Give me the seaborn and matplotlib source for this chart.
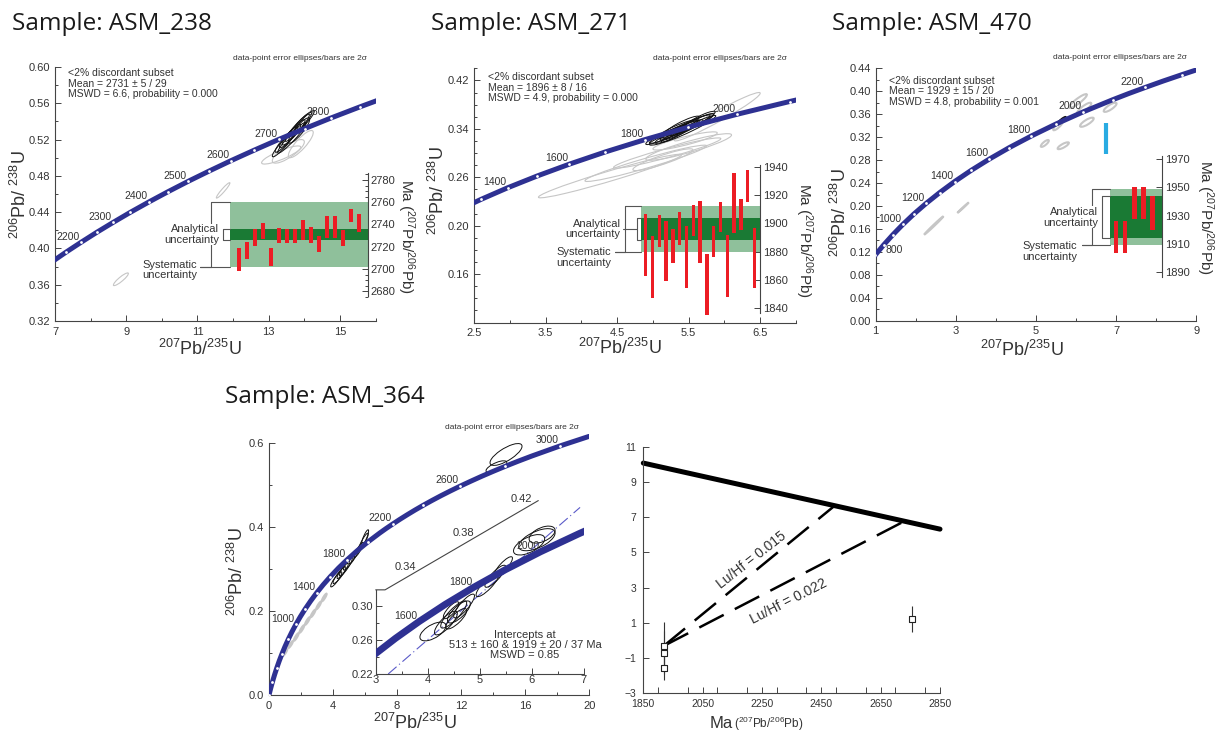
import numpy as np
import pandas as pd
import matplotlib
matplotlib.use("Agg")
import matplotlib.pyplot as plt
import matplotlib.transforms as transforms
from matplotlib.patches import Ellipse
from matplotlib.ticker import MultipleLocator, FixedLocator, FixedFormatter, FormatStrFormatter
import seaborn as sns

# ---------------- concordia reference points: age (Ma), 207Pb/235U, 206Pb/238U ----------------
conc_age = [0, 100, 200, 300, 400, 500, 600, 700, 800, 900, 1000, 1100, 1200, 1300,
            1400, 1500, 1600, 1700, 1800, 1900, 2000, 2100, 2150, 2200, 2250, 2300,
            2350, 2400, 2450, 2500, 2550, 2600, 2650, 2700, 2750, 2800, 2850, 2900,
            3000, 3100]
conc_x = [0.0, 0.1035, 0.2177, 0.3437, 0.4828, 0.6363, 0.8056, 0.9925, 1.1987, 1.4263,
          1.6774, 1.9545, 2.2603, 2.5977, 2.9701, 3.3810, 3.8344, 4.3348, 4.8869, 5.4962,
          6.1685, 6.9105, 7.3097, 7.7292, 8.1698, 8.6326, 9.1188, 9.6296, 10.1661, 10.7297,
          11.3218, 11.9437, 12.5970, 13.2833, 14.0043, 14.7616, 15.5572, 16.3929,
          18.1931, 20.1795]
conc_y = [0.0, 0.0156, 0.0315, 0.0476, 0.0640, 0.0807, 0.0975, 0.1147, 0.1321, 0.1498,
          0.1678, 0.1861, 0.2046, 0.2234, 0.2426, 0.2620, 0.2817, 0.3018, 0.3221, 0.3428,
          0.3638, 0.3851, 0.3959, 0.4067, 0.4177, 0.4287, 0.4399, 0.4511, 0.4624, 0.4738,
          0.4852, 0.4968, 0.5084, 0.5202, 0.5320, 0.5440, 0.5560, 0.5681,
          0.5926, 0.6175]

# ---------------- ASM_238 ----------------
p1_labels = [2200, 2300, 2400, 2500, 2600, 2700, 2800]
p1_black = [(13.40, 0.514, 0.30, 0.013, 0.93), (13.50, 0.520, 0.32, 0.014, 0.93),
            (13.60, 0.524, 0.30, 0.013, 0.92), (13.70, 0.528, 0.32, 0.014, 0.93),
            (13.80, 0.533, 0.34, 0.015, 0.94), (13.90, 0.537, 0.30, 0.013, 0.92),
            (14.00, 0.540, 0.28, 0.012, 0.93), (13.65, 0.522, 0.40, 0.017, 0.95),
            (13.85, 0.530, 0.30, 0.014, 0.88)]
p1_gray = [(13.35, 0.503, 0.55, 0.010, 0.85), (13.55, 0.507, 0.45, 0.013, 0.80),
           (13.90, 0.515, 0.35, 0.015, 0.85), (11.72, 0.464, 0.19, 0.0085, 0.95),
           (8.85, 0.366, 0.21, 0.007, 0.90)]
p1_mean, p1_ana, p1_sys = 2731, 5, 29
p1_top = [2719, 2724, 2736, 2741, 2719, 2737, 2736, 2736, 2744, 2738, 2730, 2748, 2748, 2735, 2754, 2749]
p1_bot = [2698, 2709, 2721, 2727, 2703, 2723, 2723, 2723, 2726, 2723, 2715, 2728, 2728, 2721, 2742, 2733]
p1_stats = "<2% discordant subset\nMean = 2731 ± 5 / 29\nMSWD = 6.6, probability = 0.000"

# ---------------- ASM_271 ----------------
p2_labels = [1400, 1600, 1800, 2000]
p2_black = [(5.20, 0.330, 0.30, 0.016, 0.93), (5.30, 0.335, 0.35, 0.019, 0.95),
            (5.40, 0.338, 0.30, 0.017, 0.93), (5.45, 0.343, 0.35, 0.020, 0.95),
            (5.35, 0.340, 0.28, 0.015, 0.90), (5.55, 0.347, 0.30, 0.018, 0.94),
            (5.60, 0.350, 0.25, 0.015, 0.92), (5.25, 0.328, 0.22, 0.012, 0.90),
            (5.50, 0.340, 0.38, 0.022, 0.96), (5.65, 0.355, 0.22, 0.014, 0.90),
            (5.40, 0.345, 0.25, 0.016, 0.90), (5.15, 0.323, 0.20, 0.010, 0.85)]
p2_gray = [(4.40, 0.262, 1.00, 0.036, 0.97), (4.90, 0.283, 0.85, 0.030, 0.96),
           (5.20, 0.300, 0.75, 0.025, 0.95), (5.14, 0.289, 0.42, 0.018, 0.90),
           (5.50, 0.310, 0.60, 0.022, 0.90), (5.90, 0.360, 0.60, 0.040, 0.97),
           (5.45, 0.320, 0.45, 0.015, 0.88)]
p2_mean, p2_ana, p2_sys = 1896, 8, 16
p2_top = [1907, 1891, 1906, 1902, 1896, 1908, 1898, 1913, 1916, 1878, 1898, 1915, 1892, 1936, 1917, 1938, 1897]
p2_bot = [1863, 1847, 1883, 1859, 1872, 1885, 1854, 1891, 1872, 1835, 1876, 1894, 1848, 1893, 1895, 1915, 1854]
p2_stats = "<2% discordant subset\nMean = 1896 ± 8 / 16\nMSWD = 4.9, probability = 0.000"
p2_yticks = [0.10, 0.18, 0.26, 0.34, 0.42]
p2_ylabels = ["0.16", "0.20", "0.26", "0.34", "0.42"]

# ---------------- ASM_470 ----------------
p3_labels = [1000, 1200, 1400, 1600, 1800, 2000, 2200]
p3_black = [(5.62, 0.348, 0.13, 0.008, 0.90)]
p3_gray = [(6.05, 0.383, 0.22, 0.012, 0.90), (6.20, 0.370, 0.18, 0.010, 0.85),
           (6.85, 0.372, 0.16, 0.008, 0.80), (6.27, 0.346, 0.17, 0.008, 0.80),
           (5.22, 0.309, 0.10, 0.006, 0.80), (5.68, 0.305, 0.14, 0.006, 0.80),
           (5.55, 0.340, 0.12, 0.008, 0.85), (2.45, 0.166, 0.24, 0.016, 0.995),
           (3.18, 0.197, 0.14, 0.009, 0.995)]
p3_cyan_x = [6.75, 6.75]
p3_cyan_y = [0.291, 0.345]
p3_mean, p3_ana, p3_sys = 1929, 15, 20
p3_top = [1926, 1926, 1950, 1950, 1944]
p3_bot = [1904, 1904, 1928, 1928, 1920]
p3_stats = "<2% discordant subset\nMean = 1929 ± 15 / 20\nMSWD = 4.8, probability = 0.001"

# ---------------- ASM_364 ----------------
p4_labels = [1000, 1400, 1800, 2200, 2600, 3000]
p4_black = [(4.2, 0.275, 0.35, 0.018, 0.9), (4.4, 0.285, 0.40, 0.020, 0.9),
            (4.6, 0.295, 0.35, 0.018, 0.9), (4.8, 0.305, 0.40, 0.022, 0.9),
            (5.0, 0.315, 0.35, 0.018, 0.9), (5.3, 0.330, 0.30, 0.018, 0.9),
            (5.6, 0.345, 0.30, 0.018, 0.9), (5.9, 0.365, 0.30, 0.020, 0.9),
            (6.0, 0.375, 0.22, 0.018, 0.85), (14.8, 0.572, 1.0, 0.026, 0.75),
            (14.2, 0.543, 0.65, 0.014, 0.70)]
p4_gray = [(1.00, 0.101, 0.14, 0.008, 0.9), (1.35, 0.120, 0.14, 0.008, 0.9),
           (1.70, 0.138, 0.15, 0.009, 0.9), (2.05, 0.157, 0.15, 0.009, 0.9),
           (2.40, 0.176, 0.15, 0.009, 0.9), (2.75, 0.194, 0.15, 0.009, 0.9),
           (3.10, 0.213, 0.15, 0.009, 0.9), (3.45, 0.232, 0.15, 0.009, 0.9)]
p4_in_labels = [1600, 1800, 2000]
p4_in_black = [(4.10, 0.270, 0.25, 0.011, 0.6), (4.35, 0.280, 0.22, 0.014, 0.8),
               (4.50, 0.290, 0.25, 0.016, 0.85), (4.60, 0.293, 0.22, 0.013, 0.75),
               (4.55, 0.285, 0.20, 0.012, 0.8), (4.70, 0.300, 0.20, 0.014, 0.85),
               (4.45, 0.295, 0.15, 0.010, 0.8), (5.15, 0.325, 0.22, 0.014, 0.85),
               (5.30, 0.335, 0.20, 0.013, 0.85), (5.45, 0.346, 0.18, 0.012, 0.85),
               (5.95, 0.372, 0.30, 0.012, 0.6), (6.10, 0.378, 0.35, 0.013, 0.6),
               (6.20, 0.384, 0.25, 0.010, 0.5)]
disc_x = [3.24, 6.93]
disc_y = [0.22, 0.416]
diag_x = [3.0, 3.18, 6.127]
diag_y = [0.319, 0.319, 0.424]
diag_ticks = [0.34, 0.38, 0.42]
p4_stats = "Intercepts at\n513 ± 160 & 1919 ± 20 / 37 Ma\nMSWD = 0.85"

# ---------------- eHf vs edad ----------------
dm_age = [1850, 2850]
dm_eps = [10.07, 6.32]
lu015_age = [1919, 2495]
lu015_eps = [-0.31, 7.65]
lu022_age = [1919, 2730]
lu022_eps = [-0.31, 6.77]
hf_age = [1919, 1919, 1919, 2757]
hf_eps = [-0.31, -0.69, -1.54, 1.22]
hf_err = [1.38, 1.2, 0.7, 0.72]

# ---------------- estilo ----------------
sns.set_theme(style="ticks")
plt.rcParams['font.family'] = ['Liberation Sans', 'DejaVu Sans']
plt.rcParams['mathtext.fontset'] = 'custom'
plt.rcParams['mathtext.rm'] = 'Liberation Sans'
plt.rcParams['mathtext.default'] = 'regular'

BLUE = '#2e3192'
LGREEN = '#8fc09b'
DGREEN = '#1a7a34'
RED = '#ec1c24'
AXC = '#444444'
TXT = '#333333'
GRAY = '#c6c6c6'

W, H = 1215, 737
fig = plt.figure(figsize=(12.15, 7.37), dpi=100, facecolor='white')
conc = pd.DataFrame({'age': conc_age, 'x': conc_x, 'y': conc_y})


def px_rect(l, t, r, b):
    return [l / W, 1 - b / H, (r - l) / W, (b - t) / H]


def style(ax, size=8):
    ax.set_facecolor('none')
    for s in ['top', 'right']:
        ax.spines[s].set_visible(False)
    for s in ['left', 'bottom']:
        ax.spines[s].set_color(AXC)
        ax.spines[s].set_linewidth(0.8)
    ax.tick_params(which='both', direction='in', color=AXC, labelcolor=TXT,
                   labelsize=size, width=0.7)
    ax.tick_params(which='major', length=4)
    ax.tick_params(which='minor', length=2.5)
    ax.tick_params(axis='x', pad=4)


def ellipses(ax, items, color, lw=0.8, fill='none'):
    for x, y, sx, sy, rho in items:
        e = Ellipse((0, 0), width=2 * np.sqrt(1 + rho), height=2 * np.sqrt(1 - rho),
                    facecolor=fill, edgecolor=color, lw=lw, zorder=2)
        tr = transforms.Affine2D().rotate_deg(45).scale(sx, sy).translate(x, y)
        e.set_transform(tr + ax.transData)
        ax.add_patch(e)


def curve(ax, lo, hi, step, lw=3.6, dots=True):
    d = conc[(conc.age >= lo) & (conc.age <= hi)]
    sns.lineplot(data=d, x='x', y='y', sort=False, estimator=None, color=BLUE,
                 lw=lw, ax=ax, zorder=3)
    if dots:
        sns.scatterplot(data=d[d.age % step == 0], x='x', y='y', color='white',
                        s=4, linewidth=0, ax=ax, zorder=4)
    ax.set(xlabel='', ylabel='')


def age_labels(ax, ages, size=7.5):
    for a in ages:
        r = conc[conc.age == a].iloc[0]
        ax.annotate(str(a), (r.x, r.y), xytext=(-1, 0.5), textcoords='offset points',
                    ha='right', va='bottom', fontsize=size, color=TXT, zorder=5)


def axis_texts(ax, xl, yl, note_xy, stats=None, stats_xy=None):
    ax.text(xl[0], xl[1], r'$^{207}$Pb/$^{235}$U', transform=ax.transAxes,
            ha='center', va='center', fontsize=13, color=TXT)
    ax.text(yl[0], yl[1], r'$^{206}$Pb/ $^{238}$U', transform=ax.transAxes,
            ha='center', va='center', fontsize=13, color=TXT, rotation=90)
    ax.text(note_xy[0], note_xy[1], 'data-point error ellipses/bars are 2σ',
            transform=ax.transAxes, ha='right', va='center', fontsize=6, color=TXT)
    if stats:
        ax.text(stats_xy[0], stats_xy[1], stats, transform=ax.transAxes, ha='left',
                va='top', fontsize=7.5, color=TXT, linespacing=1.05)


def ma_inset(rect, xlim, ylim, bounds, ticks, minor, mean, ana, sys_, top, bot,
             sys_x, ana_x, tail_x, ana_txt_x, sys_txt_x, sys_txt_dy, leader_x=None):
    ax = fig.add_axes(px_rect(*rect))
    ax.set_facecolor('none')
    ax.set_xlim(xlim)
    ax.set_ylim(ylim)
    ax.axhspan(mean - sys_, mean + sys_, color=LGREEN, lw=0, zorder=1)
    ax.axhspan(mean - ana, mean + ana, color=DGREEN, lw=0, zorder=1)
    idx = np.arange(1, len(top) + 1)
    ax.bar(idx, np.array(top) - np.array(bot), bottom=bot, width=0.5, color=RED,
           lw=0, zorder=3, clip_on=False)
    for s in ['top', 'left', 'bottom']:
        ax.spines[s].set_visible(False)
    ax.spines['right'].set_color(AXC)
    ax.spines['right'].set_linewidth(0.8)
    ax.spines['right'].set_bounds(*bounds)
    ax.yaxis.tick_right()
    ax.set_xticks([])
    ax.yaxis.set_major_locator(FixedLocator(ticks))
    if minor:
        ax.yaxis.set_minor_locator(MultipleLocator(minor))
    ax.tick_params(which='both', direction='in', color=AXC, labelcolor=TXT,
                   labelsize=8, width=0.7, pad=2)
    ax.tick_params(which='major', length=4)
    ax.tick_params(which='minor', length=2)
    x0 = xlim[0]
    kw = dict(color='#555555', lw=0.8, clip_on=False, zorder=1)
    ax.plot([x0, sys_x, sys_x, tail_x], [mean + sys_, mean + sys_, mean - sys_, mean - sys_], **kw)
    ax.plot([tail_x, x0], [mean - sys_, mean - sys_], **kw)
    ax.plot([x0, ana_x, ana_x, x0], [mean + ana, mean + ana, mean - ana, mean - ana], **kw)
    if leader_x is not None:
        ax.plot([leader_x, ana_x], [mean, mean], **kw)
    ax.text(ana_txt_x, mean, 'Analytical\nuncertainty', ha='right', va='center',
            fontsize=8, color=TXT, linespacing=1.1, zorder=4,
            bbox=dict(facecolor='white', edgecolor='none', pad=0.3))
    ax.text(sys_txt_x, mean - sys_ - sys_txt_dy, 'Systematic\nuncertainty', ha='right',
            va='center', fontsize=8, color=TXT, linespacing=1.1, multialignment='left')
    return ax


def title(x, y, s):
    fig.text(x / W, 1 - y / H, s, fontsize=17.5, family=['Open Sans', 'DejaVu Sans'],
             ha='left', va='baseline', color='#1a1a1a')


def ma_label(x, y):
    fig.text(x / W, 1 - y / H, r'Ma $(^{207}$Pb/$^{206}$Pb$)$', rotation=270,
             ha='center', va='center', fontsize=11, color=TXT)


# ================= ASM_238 =================
title(12, 30, 'Sample: ASM_238')
ax1 = fig.add_axes(px_rect(55, 67, 375.6, 321))
ax1.set_xlim(7, 16)
ax1.set_ylim(0.32, 0.60)
style(ax1)
curve(ax1, 2000, 2900, 50)
ellipses(ax1, p1_gray, GRAY, lw=0.8)
ellipses(ax1, p1_black, '#111111', lw=0.7)
age_labels(ax1, p1_labels)
ax1.xaxis.set_major_locator(FixedLocator([7, 9, 11, 13, 15]))
ax1.xaxis.set_minor_locator(MultipleLocator(1))
ax1.yaxis.set_major_locator(MultipleLocator(0.04))
ax1.yaxis.set_minor_locator(MultipleLocator(0.02))
ax1.yaxis.set_major_formatter(FormatStrFormatter('%.2f'))
axis_texts(ax1, (0.452, -0.11), (-0.11, 0.5), (0.973, 1.035), p1_stats, (0.041, 0.995))
ma_inset((230, 173.3, 368, 296.8), (-0.125, 17.125), (2675, 2786), (2676, 2786),
         [2680, 2700, 2720, 2740, 2760, 2780], 5, p1_mean, p1_ana, p1_sys, p1_top, p1_bot,
         sys_x=-2.5, ana_x=-1.0, tail_x=-3.875, ana_txt_x=-1.5, sys_txt_x=-4.25, sys_txt_dy=3)
ma_label(406, 236)

# ================= ASM_271 =================
title(431, 30, 'Sample: ASM_271')
ax2 = fig.add_axes(px_rect(474, 68.3, 796, 322.5))
ax2.set_xlim(2.5, 7.0)
ax2.set_ylim(0.02, 0.44)
style(ax2)
curve(ax2, 1200, 2200, 100)
ellipses(ax2, p2_gray, GRAY, lw=0.8)
ellipses(ax2, p2_black, '#111111', lw=0.7)
age_labels(ax2, p2_labels)
ax2.xaxis.set_major_locator(FixedLocator([2.5, 3.5, 4.5, 5.5, 6.5]))
ax2.xaxis.set_minor_locator(MultipleLocator(0.5))
ax2.yaxis.set_major_locator(FixedLocator(p2_yticks))
ax2.yaxis.set_major_formatter(FixedFormatter(p2_ylabels))
ax2.yaxis.set_minor_locator(MultipleLocator(0.02))
ax2.xaxis.set_major_formatter(FormatStrFormatter('%.1f'))
axis_texts(ax2, (0.453, -0.10), (-0.111, 0.52), (0.971, 1.04), p2_stats, (0.044, 0.985))
ma_inset((640.7, 164.9, 760, 317.9), (0.27, 17.81), (1833, 1941.5), (1836.5, 1941.5),
         [1840, 1860, 1880, 1900, 1920, 1940], None, p2_mean, p2_ana, p2_sys, p2_top, p2_bot,
         sys_x=-2.04, ana_x=-0.23, tail_x=-3.51, ana_txt_x=-2.67, sys_txt_x=-3.99,
         sys_txt_dy=4, leader_x=-2.38)
ma_label(804, 240)

# ================= ASM_470 =================
title(832, 30, 'Sample: ASM_470')
ax3 = fig.add_axes(px_rect(875.7, 68.3, 1196.3, 320.7))
ax3.set_xlim(1, 9)
ax3.set_ylim(0, 0.44)
style(ax3)
curve(ax3, 600, 2400, 100)
ellipses(ax3, p3_gray, GRAY, lw=1.5)
ellipses(ax3, p3_black, '#111111', lw=0.8, fill='#111111')
age_labels(ax3, p3_labels)
r800 = conc[conc.age == 800].iloc[0]
ax3.annotate('800', (r800.x, r800.y), xytext=(1, 0), textcoords='offset points',
             ha='left', va='top', fontsize=7.5, color=TXT)
ax3.plot(p3_cyan_x, p3_cyan_y, color='#29abe2', lw=3, solid_capstyle='butt', zorder=3)
ax3.xaxis.set_major_locator(FixedLocator([1, 3, 5, 7, 9]))
ax3.xaxis.set_minor_locator(MultipleLocator(1))
ax3.yaxis.set_major_locator(MultipleLocator(0.04))
ax3.yaxis.set_minor_locator(MultipleLocator(0.02))
ax3.yaxis.set_major_formatter(FormatStrFormatter('%.2f'))
axis_texts(ax3, (0.455, -0.116), (-0.111, 0.43), (0.97, 1.044), p3_stats, (0.042, 0.97))
ma_inset((1110, 156.2, 1162, 276.6), (0.348, 6.03), (1887, 1972), (1887, 1972),
         [1890, 1910, 1930, 1950, 1970], None, p3_mean, p3_ana, p3_sys, p3_top, p3_bot,
         sys_x=-1.64, ana_x=-0.55, tail_x=-2.73, ana_txt_x=-0.92, sys_txt_x=-3.19, sys_txt_dy=4)
ma_label(1205, 217)

# ================= ASM_364 =================
title(225, 402.7, 'Sample: ASM_364')
ax4 = fig.add_axes(px_rect(269, 434.3, 589.3, 695))
ax4.set_xlim(0, 20)
ax4.set_ylim(0, 0.62)
style(ax4)
ax4.spines['left'].set_bounds(0, 0.6)
curve(ax4, 0, 3100, 200)
ellipses(ax4, p4_gray, GRAY, lw=1.5)
ellipses(ax4, p4_black, '#111111', lw=0.7)
age_labels(ax4, p4_labels)
ax4.xaxis.set_major_locator(MultipleLocator(4))
ax4.xaxis.set_minor_locator(MultipleLocator(2))
ax4.yaxis.set_major_locator(FixedLocator([0, 0.2, 0.4, 0.6]))
ax4.yaxis.set_major_formatter(FixedFormatter(['0.0', '0.2', '0.4', '0.6']))
ax4.yaxis.set_minor_locator(FixedLocator([0.1, 0.3, 0.5]))
axis_texts(ax4, (0.456, -0.109), (-0.10, 0.473), (0.966, 1.025))

ax4i = fig.add_axes(px_rect(375.7, 495.5, 583.7, 674))
ax4i.set_xlim(3, 7)
ax4i.set_ylim(0.22, 0.43)
style(ax4i)
ax4i.tick_params(axis='x', pad=1)
ax4i.tick_params(axis='y', pad=2)
ax4i.spines['left'].set_bounds(0.22, 0.319)
ax4i.plot(disc_x, disc_y, color='#5a5ac8', lw=0.8, dashes=(10, 3, 1, 3), zorder=2)
curve(ax4i, 1300, 2200, 100, lw=5, dots=False)
ellipses(ax4i, p4_in_black, '#111111', lw=0.7)
age_labels(ax4i, p4_in_labels)
ax4i.xaxis.set_major_locator(MultipleLocator(1))
ax4i.xaxis.set_minor_locator(MultipleLocator(0.5))
ax4i.yaxis.set_major_locator(FixedLocator([0.22, 0.26, 0.30]))
ax4i.yaxis.set_major_formatter(FormatStrFormatter('%.2f'))
ax4i.yaxis.set_minor_locator(FixedLocator([0.24, 0.28]))
ax4i.plot(diag_x, diag_y, color=AXC, lw=0.8, clip_on=False)
for v in diag_ticks:
    xv = np.interp(v, diag_y[1:], diag_x[1:])
    ax4i.text(xv, v, f'{v:.2f}', ha='right', va='bottom', fontsize=8, color=TXT)
ax4i.text(0.718, 0.162, p4_stats, transform=ax4i.transAxes, ha='center', va='center',
          fontsize=8, color=TXT, multialignment='center', linespacing=1.05)

# ================= eHf =================
ax5 = fig.add_axes(px_rect(643.3, 446.7, 940, 693.3))
ax5.set_xlim(1850, 2850)
ax5.set_ylim(-3, 11)
style(ax5, size=7.5)
sns.lineplot(x=dm_age, y=dm_eps, color='black', lw=3.6, ax=ax5, clip_on=False)
ax5.plot(lu015_age, lu015_eps, color='black', lw=1.8, dashes=(11, 5))
ax5.plot(lu022_age, lu022_eps, color='black', lw=1.8, dashes=(11, 5))
ax5.errorbar(hf_age, hf_eps, yerr=hf_err, fmt='none', ecolor='#333333', elinewidth=0.8,
             capsize=0, zorder=3)
sns.scatterplot(x=hf_age, y=hf_eps, marker='s', s=22, facecolor='white',
                edgecolor='#222222', linewidth=0.8, ax=ax5, zorder=4)
ax5.text(2215, 4.57, 'Lu/Hf = 0.015', rotation=38, rotation_mode='anchor',
         ha='center', va='center', fontsize=10, color=TXT)
ax5.text(2339, 2.2, 'Lu/Hf = 0.022', rotation=27, rotation_mode='anchor',
         ha='center', va='center', fontsize=10, color=TXT)
ax5.xaxis.set_major_locator(FixedLocator(list(range(1850, 2851, 200))))
ax5.xaxis.set_minor_locator(MultipleLocator(100))
ax5.yaxis.set_major_locator(FixedLocator(list(range(-3, 12, 2))))
ax5.tick_params(which='minor', length=4)
ax5.tick_params(axis='y', pad=5)
ax5.set(xlabel='', ylabel='')
fig.text(710 / W, 1 - 728.3 / H, 'Ma', fontsize=12, color=TXT, ha='left', va='baseline')
fig.text(734 / W, 1 - 728.3 / H, r'($^{207}$Pb/$^{206}$Pb)', fontsize=8.5, color=TXT,
         ha='left', va='baseline')

fig.savefig('out.png', dpi=100, facecolor='white')
